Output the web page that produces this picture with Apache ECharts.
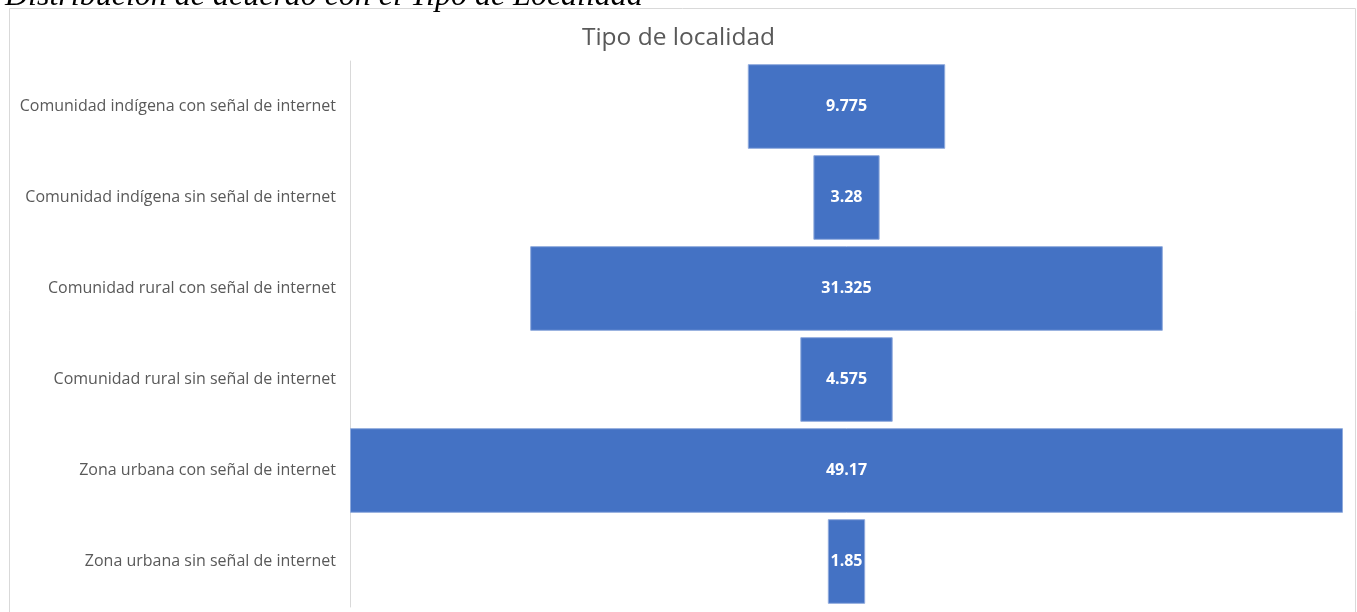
<!DOCTYPE html>
<html>
<head>
<meta charset="utf-8">
<script src="https://cdn.jsdelivr.net/npm/echarts@6/dist/echarts.min.js"></script>
<style>
	html, body { margin: 0; padding: 0; background: #fff; }
	#chart { width: 1357px; height: 612px; }
</style>
</head>
<body>
<div id="chart"></div>
<script>
	// datos
	const categorias = [
		'Comunidad indígena con señal de internet',
		'Comunidad indígena sin señal de internet',
		'Comunidad rural con señal de internet',
		'Comunidad rural sin señal de internet',
		'Zona urbana con señal de internet',
		'Zona urbana sin señal de internet'
	]
	const valores = [9.775, 3.28, 31.325, 4.575, 49.17, 1.85]

	const maximo = Math.max(...valores)
	// hueco invisible a la izquierda para centrar cada barra (embudo)
	const relleno = valores.map((v) => (maximo - v) / 2)

	const chart = echarts.init(document.getElementById('chart'))

	const option = {
		animation: false,
		backgroundColor: '#ffffff',
		title: {
			text: 'Tipo de localidad',
			left: 'center',
			top: 21,
			textStyle: {
				color: '#595959',
				fontSize: 24.5,
				fontWeight: 'normal',
				fontFamily: 'Open Sans'
			}
		},
		graphic: [
			{
				type: 'rect',
				shape: { x: 9.5, y: 8.5, width: 1346, height: 620 },
				style: { fill: 'none', stroke: '#d9d9d9', lineWidth: 1 },
				silent: true
			},
			{
				type: 'text',
				left: 5,
				top: -19,
				style: {
					text: 'Distribución de acuerdo con el Tipo de Localidad',
					font: 'italic 32px "Liberation Serif"',
					fill: '#000'
				},
				silent: true
			}
		],
		grid: {
			left: 350,
			right: 14,
			top: 61,
			bottom: 5,
			containLabel: false
		},
		xAxis: {
			type: 'value',
			min: 0,
			max: maximo,
			show: false
		},
		yAxis: {
			type: 'category',
			inverse: true,
			data: categorias,
			axisLine: { show: true, lineStyle: { color: '#d9d9d9', width: 1 } },
			axisTick: { show: false },
			axisLabel: {
				color: '#595959',
				fontSize: 16,
				fontFamily: 'Open Sans',
				margin: 14
			}
		},
		series: [
			{
				type: 'bar',
				stack: 'embudo',
				data: relleno,
				itemStyle: { color: 'transparent' },
				silent: true,
				barWidth: '93%'
			},
			{
				type: 'bar',
				stack: 'embudo',
				data: valores,
				barWidth: '93%',
				itemStyle: {
					color: '#4472c4',
					borderColor: '#8faadc',
					borderWidth: 1
				},
				label: {
					show: true,
					position: 'inside',
					color: '#ffffff',
					fontSize: 16,
					fontWeight: 'bold',
					fontFamily: 'Open Sans'
				}
			}
		]
	}

	chart.setOption(option)
	window.onresize = () => {
		chart.resize()
	}
</script>
</body>
</html>
